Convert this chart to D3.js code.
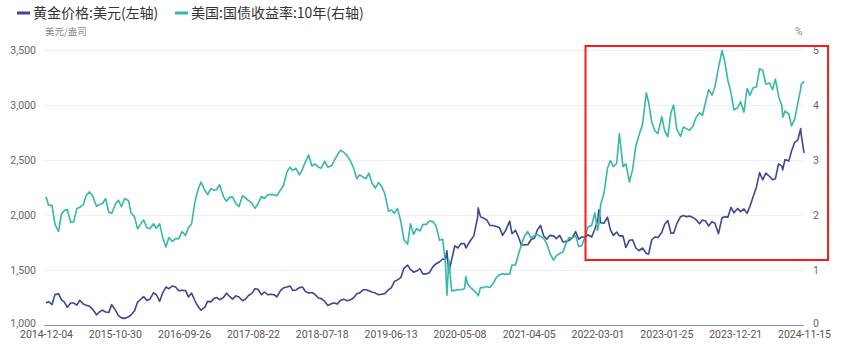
<!DOCTYPE html>
<html><head><meta charset="utf-8">
<script src="https://cdn.jsdelivr.net/npm/d3@7/dist/d3.min.js"></script>
<style>
html,body{margin:0;padding:0;background:#fff;}
svg{display:block;font-family:"Noto Sans CJK SC","Noto Sans",sans-serif;}
</style></head>
<body>
<svg id="chart" width="865" height="347"></svg>
<script>
// ---- data ----
const seriesNames = ["黄金价格:美元(左轴)", "美国:国债收益率:10年(右轴)"];
const leftUnit = "美元/盎司";
const rightUnit = "%";
const xTickLabels = ["2014-12-04","2015-10-30","2016-09-26","2017-08-22","2018-07-18","2019-06-13",
  "2020-05-08","2021-04-05","2022-03-01","2023-01-25","2023-12-21","2024-11-15"];
const leftTicks = [1000, 1500, 2000, 2500, 3000, 3500];
const rightTicks = [0, 1, 2, 3, 4, 5];

const dates = [
 "2014-12-04","2014-12-16",
 "2015-01-02","2015-01-16","2015-02-02","2015-02-16","2015-03-02","2015-03-16","2015-04-01","2015-04-16","2015-05-01","2015-05-15","2015-06-01","2015-06-15","2015-07-01","2015-07-15","2015-08-03","2015-08-17","2015-09-01","2015-09-16","2015-10-01","2015-10-15","2015-11-02","2015-11-16","2015-12-01","2015-12-16",
 "2016-01-04","2016-01-15","2016-02-01","2016-02-16","2016-03-01","2016-03-16","2016-04-01","2016-04-15","2016-05-02","2016-05-16","2016-06-01","2016-06-16","2016-07-01","2016-07-15","2016-08-01","2016-08-16","2016-09-01","2016-09-16","2016-10-03","2016-10-17","2016-11-01","2016-11-16","2016-12-01","2016-12-16",
 "2017-01-03","2017-01-17","2017-02-01","2017-02-16","2017-03-01","2017-03-15","2017-04-03","2017-04-17","2017-05-01","2017-05-16","2017-06-01","2017-06-16","2017-07-03","2017-07-17","2017-08-01","2017-08-16","2017-09-01","2017-09-15","2017-10-02","2017-10-16","2017-11-01","2017-11-16","2017-12-01","2017-12-15",
 "2018-01-02","2018-01-16","2018-02-01","2018-02-16","2018-03-01","2018-03-16","2018-04-02","2018-04-16","2018-05-01","2018-05-16","2018-06-01","2018-06-15","2018-07-02","2018-07-16","2018-08-01","2018-08-16","2018-09-04","2018-09-17","2018-10-01","2018-10-16","2018-11-01","2018-11-16","2018-12-03","2018-12-17",
 "2019-01-02","2019-01-16","2019-02-01","2019-02-15","2019-03-01","2019-03-15","2019-04-01","2019-04-16","2019-05-01","2019-05-16","2019-06-03","2019-06-17","2019-07-01","2019-07-16","2019-08-01","2019-08-16","2019-09-03","2019-09-16","2019-10-01","2019-10-16","2019-11-01","2019-11-15","2019-12-02","2019-12-16",
 "2020-01-02","2020-01-16","2020-02-03","2020-02-18","2020-03-02","2020-03-09","2020-03-18","2020-04-01","2020-04-16","2020-05-01","2020-05-15","2020-06-01","2020-06-08","2020-06-16","2020-07-01","2020-07-16","2020-08-03","2020-08-06","2020-08-17","2020-09-01","2020-09-16","2020-10-01","2020-10-16","2020-11-02","2020-11-16","2020-12-01","2020-12-16",
 "2021-01-04","2021-01-15","2021-02-01","2021-02-16","2021-03-01","2021-03-16","2021-04-01","2021-04-16","2021-05-03","2021-05-17","2021-06-01","2021-06-16","2021-07-01","2021-07-16","2021-08-02","2021-08-16","2021-09-01","2021-09-16","2021-10-01","2021-10-15","2021-11-01","2021-11-16","2021-12-01","2021-12-16",
 "2022-01-03","2022-01-14","2022-02-01","2022-02-16","2022-03-01","2022-03-08","2022-03-16","2022-04-01","2022-04-18","2022-05-02","2022-05-16","2022-06-01","2022-06-14","2022-07-01","2022-07-15","2022-08-01","2022-08-16","2022-09-01","2022-09-16","2022-10-03","2022-10-21","2022-11-01","2022-11-16","2022-12-01","2022-12-16",
 "2023-01-03","2023-01-17","2023-02-01","2023-02-16","2023-03-01","2023-03-16","2023-04-03","2023-04-17","2023-05-01","2023-05-16","2023-06-01","2023-06-16","2023-07-03","2023-07-17","2023-08-01","2023-08-16","2023-09-01","2023-09-15","2023-10-02","2023-10-19","2023-11-01","2023-11-16","2023-12-01","2023-12-15",
 "2024-01-02","2024-01-16","2024-02-01","2024-02-16","2024-03-01","2024-03-15","2024-04-01","2024-04-16","2024-05-01","2024-05-16","2024-06-03","2024-06-17","2024-07-01","2024-07-16","2024-08-01","2024-08-05","2024-08-16","2024-09-03","2024-09-16","2024-10-01","2024-10-16","2024-10-30","2024-11-01","2024-11-15"
];

const goldPrice = [
 1200,1212,
 1186,1276,1285,1228,1208,1160,1200,1200,1180,1225,1190,1180,1170,1145,1092,1118,1135,1118,1115,1185,1135,1085,1065,1060,
 1075,1090,1128,1208,1232,1258,1222,1235,1293,1275,1215,1295,1345,1330,1355,1345,1312,1315,1313,1255,1290,1225,1170,1135,
 1160,1215,1210,1240,1250,1230,1250,1290,1262,1235,1265,1255,1220,1235,1268,1285,1330,1325,1275,1300,1275,1280,1275,1255,
 1315,1338,1345,1355,1315,1318,1340,1345,1305,1290,1295,1280,1245,1240,1215,1178,1195,1200,1190,1225,1235,1220,1230,1245,
 1285,1292,1320,1320,1312,1300,1290,1275,1280,1285,1320,1340,1395,1410,1430,1515,1545,1505,1480,1490,1510,1465,1465,1475,
 1530,1555,1575,1600,1595,1675,1480,1595,1720,1700,1740,1740,1700,1725,1770,1810,1975,2065,1985,1970,1955,1905,1905,1895,1885,1815,1860,
 1945,1830,1860,1795,1725,1730,1730,1775,1790,1865,1905,1810,1780,1815,1810,1785,1815,1755,1760,1768,1795,1850,1780,1800,
 1800,1820,1800,1870,1945,2050,1930,1925,1980,1865,1815,1845,1810,1810,1705,1770,1775,1700,1675,1700,1650,1645,1775,1800,1795,
 1840,1915,1950,1835,1835,1920,1985,1995,1985,1990,1978,1958,1920,1955,1945,1900,1940,1925,1830,1975,1985,1980,2070,2020,
 2060,2030,2055,2015,2080,2160,2255,2385,2320,2380,2350,2320,2330,2465,2445,2410,2505,2490,2580,2660,2680,2785,2740,2565
];

const treasury10y = [
 2.33,2.18,
 2.17,1.83,1.70,2.02,2.08,2.10,1.87,1.88,2.12,2.14,2.19,2.36,2.42,2.35,2.16,2.19,2.21,2.30,2.05,2.03,2.20,2.27,2.15,2.30,
 2.26,2.04,1.97,1.75,1.83,1.91,1.77,1.75,1.84,1.76,1.84,1.58,1.42,1.59,1.52,1.57,1.57,1.70,1.63,1.77,1.84,2.22,2.45,2.60,
 2.45,2.37,2.48,2.45,2.46,2.55,2.33,2.25,2.32,2.33,2.21,2.15,2.35,2.31,2.26,2.22,2.12,2.20,2.34,2.30,2.37,2.37,2.37,2.35,
 2.46,2.54,2.78,2.87,2.81,2.85,2.73,2.83,2.97,3.09,2.89,2.93,2.87,2.85,2.98,2.87,2.90,3.00,3.09,3.18,3.14,3.08,2.98,2.86,
 2.66,2.73,2.69,2.66,2.76,2.59,2.49,2.59,2.52,2.39,2.07,2.09,2.03,2.12,1.89,1.55,1.47,1.84,1.65,1.75,1.71,1.83,1.83,1.89,
 1.88,1.81,1.54,1.56,1.12,0.54,1.18,0.62,0.63,0.64,0.64,0.66,0.88,0.75,0.68,0.63,0.56,0.53,0.68,0.68,0.70,0.68,0.75,0.87,0.91,0.93,0.92,
 0.93,1.09,1.09,1.30,1.45,1.62,1.70,1.58,1.63,1.64,1.61,1.57,1.48,1.30,1.18,1.26,1.30,1.33,1.48,1.59,1.58,1.63,1.43,1.44,
 1.63,1.78,1.81,2.04,1.72,1.85,2.19,2.39,2.85,2.99,2.88,2.94,3.48,2.88,2.93,2.60,2.82,3.26,3.45,3.65,4.22,4.05,3.69,3.53,3.48,
 3.79,3.53,3.42,3.86,4.00,3.56,3.43,3.60,3.57,3.54,3.61,3.77,3.86,3.81,4.05,4.28,4.18,4.33,4.68,4.99,4.79,4.45,4.22,3.91,
 3.95,4.06,3.87,4.30,4.18,4.31,4.33,4.66,4.63,4.38,4.40,4.28,4.47,4.16,3.98,3.78,3.89,3.84,3.62,3.74,4.03,4.29,4.37,4.43
];

// highlighted period (red box)
const highlightStart = "2022-03-01";
const highlightEnd = "2024-11-15";

// ---- drawing ----
const svg = d3.select("#chart");
const parse = d3.utcParse("%Y-%m-%d");
const plot = {left: 46, right: 804, top: 50, bottom: 325};
const colors = {gold: "#3c4896", yld: "#36b8a6"};
const numFont = 'Roboto, "Liberation Sans", sans-serif';

const x = d3.scaleUtc()
  .domain([parse(xTickLabels[0]), parse(xTickLabels[xTickLabels.length - 1])])
  .range([plot.left, plot.right]);
const yL = d3.scaleLinear().domain([1000, 3500]).range([plot.bottom, plot.top]);
const yR = d3.scaleLinear().domain([0, 5]).range([plot.bottom, plot.top]);

const n = Math.min(dates.length, goldPrice.length, treasury10y.length);
const rows = d3.range(n).map(i => ({d: parse(dates[i]), g: goldPrice[i], t: treasury10y[i]}));

// gridlines
svg.append("g").selectAll("line").data(leftTicks.slice(1)).join("line")
  .attr("x1", plot.left - 2).attr("x2", plot.right)
  .attr("y1", d => yL(d) + 0.5).attr("y2", d => yL(d) + 0.5)
  .attr("stroke", "#eceef5").attr("stroke-width", 1);

// left axis labels
svg.append("g").selectAll("text").data(leftTicks).join("text")
  .attr("x", 36).attr("y", d => yL(d) - (d === leftTicks[0] ? 2 : 0)).attr("dy", "0.35em")
  .attr("text-anchor", "end").attr("font-size", 10.5).attr("fill", "#666")
  .attr("font-family", numFont)
  .text(d => d3.format(",")(d));

// right axis labels
svg.append("g").selectAll("text").data(rightTicks).join("text")
  .attr("x", 813).attr("y", d => yR(d) - (d === rightTicks[0] ? 2 : 0)).attr("dy", "0.35em")
  .attr("text-anchor", "start").attr("font-size", 10.5).attr("fill", "#666")
  .attr("font-family", numFont)
  .text(d => d);

// units
svg.append("text").attr("x", 45).attr("y", 35).attr("font-size", 9.5).attr("fill", "#888").text(leftUnit);
svg.append("text").attr("x", 795).attr("y", 35).attr("font-size", 10).attr("fill", "#888")
  .attr("font-family", numFont).text(rightUnit);

// x axis
const xAxis = d3.axisBottom(x)
  .tickValues(xTickLabels.map(parse))
  .tickFormat(d3.utcFormat("%Y-%m-%d"))
  .tickSize(0).tickPadding(5);
const gx = svg.append("g").attr("transform", `translate(0,${plot.bottom + 0.5})`).call(xAxis);
gx.select(".domain").attr("stroke", "#8590b5").attr("stroke-width", 1.2)
  .attr("d", `M${plot.left - 2},0H${plot.right}`);
gx.selectAll("text").attr("font-size", 10.5).attr("fill", "#555")
  .attr("font-family", numFont);

// lines
const lineG = d3.line().x(r => x(r.d)).y(r => yL(r.g)).curve(d3.curveLinear);
const lineT = d3.line().x(r => x(r.d)).y(r => yR(r.t)).curve(d3.curveLinear);
svg.append("path").datum(rows).attr("d", lineG).attr("fill", "none")
  .attr("stroke", colors.gold).attr("stroke-width", 1.6).attr("stroke-linejoin", "round");
svg.append("path").datum(rows).attr("d", lineT).attr("fill", "none")
  .attr("stroke", colors.yld).attr("stroke-width", 1.6).attr("stroke-linejoin", "round");

// red highlight box
const hx0 = x(parse(highlightStart)) - 12;
const hx1 = x(parse(highlightEnd)) + 24;
svg.append("rect").attr("x", hx0).attr("y", 46).attr("width", hx1 - hx0).attr("height", 214)
  .attr("fill", "none").attr("stroke", "#ff1a1a").attr("stroke-width", 2);

// legend
const legend = [
  {name: seriesNames[0], color: colors.gold, x: 17},
  {name: seriesNames[1], color: colors.yld, x: 175}
];
const lg = svg.append("g").selectAll("g").data(legend).join("g")
  .attr("transform", d => `translate(${d.x},13)`);
lg.append("line").attr("x1", 0).attr("x2", 13).attr("y1", 0).attr("y2", 0)
  .attr("stroke", d => d.color).attr("stroke-width", 3);
lg.append("text").attr("x", 16).attr("y", 0).attr("dy", "0.36em")
  .attr("font-size", 14).attr("fill", "#333").text(d => d.name);
</script>
</body></html>
